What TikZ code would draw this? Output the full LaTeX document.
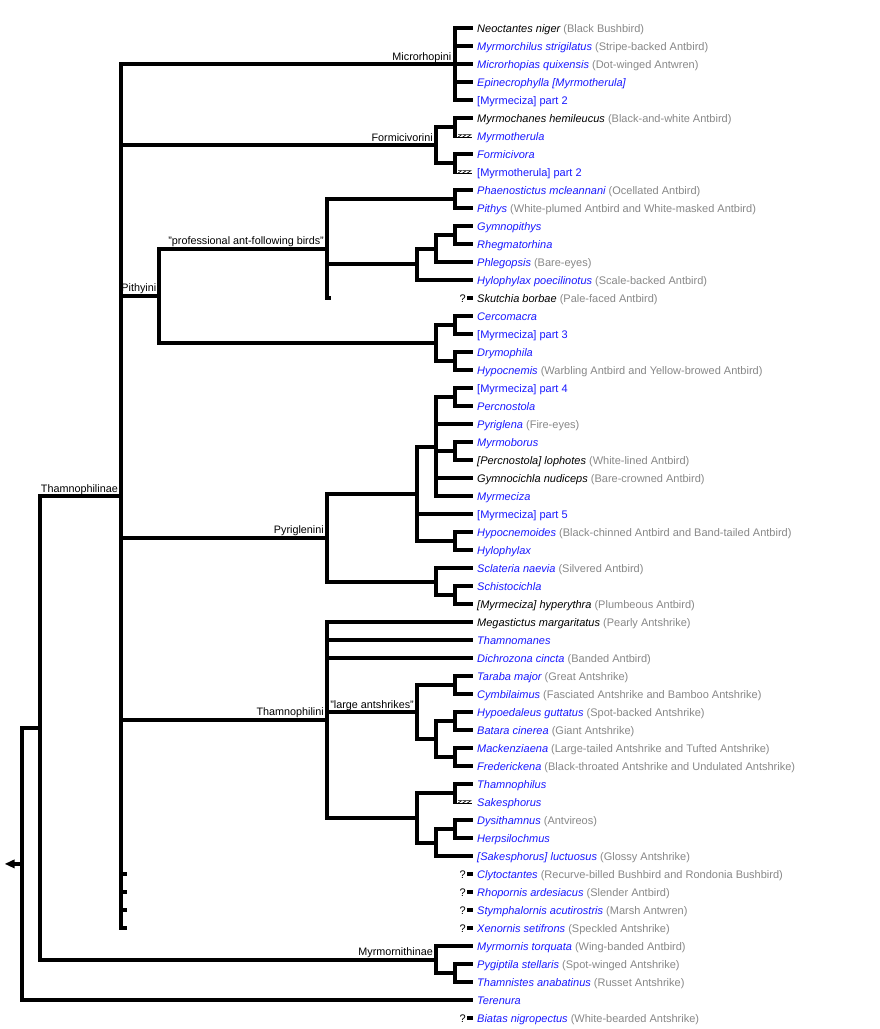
\documentclass[tikz,border=0pt]{standalone}
\usepackage{fontspec}
\setmainfont{Liberation Sans}
\usetikzlibrary{calc}
\definecolor{lkblue}{RGB}{25,25,255}
\definecolor{cmgray}{RGB}{136,136,136}
\newcommand\LkI[1]{\textcolor{lkblue}{\itshape #1}}
\newcommand\LkR[1]{\textcolor{lkblue}{#1}}
\newcommand\NmI[1]{{\itshape #1}}
\newcommand\CmN[1]{\textcolor{cmgray}{(#1)}}
\tikzset{
  branch/.style={line width=4pt, line join=miter, line cap=butt},
  leaf/.style={anchor=base west, inner sep=0pt, font=\fontsize{11}{13}\selectfont},
  clade/.style={anchor=base east, inner sep=0pt, font=\fontsize{10.8}{13}\selectfont},
  qmark/.style={anchor=base east, inner sep=0pt, font=\fontsize{11}{13}\selectfont},
}
\begin{document}
\begin{tikzpicture}[x=1pt,y=-1pt]
\useasboundingbox (0,0) rectangle (880,1029);
\fill[white] (0,0) rectangle (880,1029);

% leaf end points
\foreach \i in {1,...,56}{
  \pgfmathsetmacro{\yy}{28+18*(\i-1)}
  \coordinate (l\i) at (473,\yy);
}

% internal nodes
\coordinate (Mi) at (455,64);
\coordinate (F1) at (455,127);
\coordinate (F2) at (455,163);
\coordinate (F) at (436,145);
\coordinate (PA1) at (455,199);
\coordinate (PA4) at (455,235);
\coordinate (PA3) at (436,248.5);
\coordinate (PA2) at (417,264.25);
\coordinate (sPA) at (331,298);
\coordinate (PA) at (327,248.5);
\coordinate (PB1) at (455,325);
\coordinate (PB2) at (455,361);
\coordinate (PB) at (436,343);
\coordinate (P) at (159,295.75);
\coordinate (PyA1a) at (455,397);
\coordinate (PyA1b) at (455,451);
\coordinate (PyA1) at (436,446.5);
\coordinate (PyA2) at (455,541);
\coordinate (PyA) at (417,493.75);
\coordinate (PyB1) at (455,595);
\coordinate (PyB) at (436,581.5);
\coordinate (Py) at (327,537.6);
\coordinate (ThA1) at (455,685);
\coordinate (ThA2a) at (455,721);
\coordinate (ThA2b) at (455,757);
\coordinate (ThA2) at (436,739);
\coordinate (ThA) at (417,712);
\coordinate (ThB1) at (455,793);
\coordinate (ThB2a) at (455,829);
\coordinate (ThB2) at (436,842.5);
\coordinate (ThB) at (417,817.75);
\coordinate (Th) at (327,719.9);
\coordinate (T) at (121,496);
\foreach \i in {48,49,50,51}{
  \coordinate (s\i) at (126.5,{28+18*(\i-1)});
}
\coordinate (M1) at (455,973);
\coordinate (M) at (436,959.5);
\coordinate (A) at (40,727.75);
\coordinate (R) at (22,863.9);
\coordinate (rootend) at (14,863.9);

% branches
\foreach \p/\c in {
  R/A, R/l55, A/T, A/M,
  T/Mi, T/F, T/P, T/Py, T/Th, T/s48, T/s49, T/s50, T/s51,
  Mi/l1, Mi/l2, Mi/l3, Mi/l4, Mi/l5,
  F/F1, F/F2, F1/l6, F2/l8,
  P/PA, P/PB, PA/PA1, PA/PA2, PA/sPA, PA1/l10, PA1/l11,
  PA2/PA3, PA2/l15, PA3/PA4, PA3/l14, PA4/l12, PA4/l13,
  PB/PB1, PB/PB2, PB1/l17, PB1/l18, PB2/l19, PB2/l20,
  Py/PyA, Py/PyB, PyA/PyA1, PyA/l28, PyA/PyA2,
  PyA1/PyA1a, PyA1/l23, PyA1/PyA1b, PyA1/l26, PyA1/l27,
  PyA1a/l21, PyA1a/l22, PyA1b/l24, PyA1b/l25, PyA2/l29, PyA2/l30,
  PyB/l31, PyB/PyB1, PyB1/l32, PyB1/l33,
  Th/l34, Th/l35, Th/l36, Th/ThA, Th/ThB,
  ThA/ThA1, ThA/ThA2, ThA1/l37, ThA1/l38, ThA2/ThA2a, ThA2/ThA2b,
  ThA2a/l39, ThA2a/l40, ThA2b/l41, ThA2b/l42,
  ThB/ThB1, ThB/ThB2, ThB1/l43, ThB2/ThB2a, ThB2/l47, ThB2a/l45, ThB2a/l46,
  M/l52, M/M1, M1/l53, M1/l54}{
  \draw[branch] (\p) |- (\c);
}

% hatched branches
\foreach \p/\c in {F1/l7, F2/l9, ThB1/l44}{
  \draw[branch] (\p) -- ($(\p |- \c)+(0,2)$);
  \draw[line width=1.3pt] ($(\p |- \c)+(0,1.4)$) -- ($(\c)+(-1,1.4)$);
  \foreach \k in {0,1,2}{
    \draw[line width=0.7pt] ($(\p |- \c)+(3+4.6*\k,-1.4)$) -- ++(3.6,0) -- ++(-3.6,2.6);
  }
}

% root arrow
\draw[branch] (R) -- (rootend);
\fill (rootend) ++(0.5,-4.5) -- ++(-9.5,4.5) -- ++(9.5,4.5) -- cycle;

% uncertain-placement markers
\foreach \i in {16,48,49,50,51,56}{
  \node[qmark] (q\i) at ($(l\i)+(-7,4)$) {?};
  \fill ($(l\i)+(-6.5,-2)$) rectangle ($(l\i)+(0,2)$);
}

% clade labels
\node[clade] (cT)  at ($(T)+(-3,-4)$) {Thamnophilinae};
\node[clade] (cMi) at ($(Mi)+(-3.5,-4)$) {Microrhopini};
\node[clade] (cF)  at ($(F)+(-3,-4)$) {Formicivorini};
\node[clade] (cP)  at ($(P)+(-2.5,-4)$) {Pithyini};
\node[clade] (cPA) at ($(PA)+(-3,-4)$) {"professional ant-following birds"};
\node[clade] (cPy) at ($(Py)+(-3,-4)$) {Pyriglenini};
\node[clade] (cTh) at ($(Th)+(-3,-4)$) {Thamnophilini};
\node[clade] (cThA) at ($(ThA)+(-3,-4)$) {"large antshrikes"};
\node[clade] (cM)  at ($(M)+(-3,-4)$) {Myrmornithinae};

% leaf labels
\node[leaf] (t1) at ($(l1)+(4,4)$) {\NmI{Neoctantes niger} \CmN{Black Bushbird}};
\node[leaf] (t2) at ($(l2)+(4,4)$) {\LkI{Myrmorchilus strigilatus} \CmN{Stripe-backed Antbird}};
\node[leaf] (t3) at ($(l3)+(4,4)$) {\LkI{Microrhopias quixensis} \CmN{Dot-winged Antwren}};
\node[leaf] (t4) at ($(l4)+(4,4)$) {\LkI{Epinecrophylla [Myrmotherula]}};
\node[leaf] (t5) at ($(l5)+(4,4)$) {\LkR{[Myrmeciza] part 2}};
\node[leaf] (t6) at ($(l6)+(4,4)$) {\NmI{Myrmochanes hemileucus} \CmN{Black-and-white Antbird}};
\node[leaf] (t7) at ($(l7)+(4,4)$) {\LkI{Myrmotherula}};
\node[leaf] (t8) at ($(l8)+(4,4)$) {\LkI{Formicivora}};
\node[leaf] (t9) at ($(l9)+(4,4)$) {\LkR{[Myrmotherula] part 2}};
\node[leaf] (t10) at ($(l10)+(4,4)$) {\LkI{Phaenostictus mcleannani} \CmN{Ocellated Antbird}};
\node[leaf] (t11) at ($(l11)+(4,4)$) {\LkI{Pithys} \CmN{White-plumed Antbird and White-masked Antbird}};
\node[leaf] (t12) at ($(l12)+(4,4)$) {\LkI{Gymnopithys}};
\node[leaf] (t13) at ($(l13)+(4,4)$) {\LkI{Rhegmatorhina}};
\node[leaf] (t14) at ($(l14)+(4,4)$) {\LkI{Phlegopsis} \CmN{Bare-eyes}};
\node[leaf] (t15) at ($(l15)+(4,4)$) {\LkI{Hylophylax poecilinotus} \CmN{Scale-backed Antbird}};
\node[leaf] (t16) at ($(l16)+(4,4)$) {\NmI{Skutchia borbae} \CmN{Pale-faced Antbird}};
\node[leaf] (t17) at ($(l17)+(4,4)$) {\LkI{Cercomacra}};
\node[leaf] (t18) at ($(l18)+(4,4)$) {\LkR{[Myrmeciza] part 3}};
\node[leaf] (t19) at ($(l19)+(4,4)$) {\LkI{Drymophila}};
\node[leaf] (t20) at ($(l20)+(4,4)$) {\LkI{Hypocnemis} \CmN{Warbling Antbird and Yellow-browed Antbird}};
\node[leaf] (t21) at ($(l21)+(4,4)$) {\LkR{[Myrmeciza] part 4}};
\node[leaf] (t22) at ($(l22)+(4,4)$) {\LkI{Percnostola}};
\node[leaf] (t23) at ($(l23)+(4,4)$) {\LkI{Pyriglena} \CmN{Fire-eyes}};
\node[leaf] (t24) at ($(l24)+(4,4)$) {\LkI{Myrmoborus}};
\node[leaf] (t25) at ($(l25)+(4,4)$) {\NmI{[Percnostola] lophotes} \CmN{White-lined Antbird}};
\node[leaf] (t26) at ($(l26)+(4,4)$) {\NmI{Gymnocichla nudiceps} \CmN{Bare-crowned Antbird}};
\node[leaf] (t27) at ($(l27)+(4,4)$) {\LkI{Myrmeciza}};
\node[leaf] (t28) at ($(l28)+(4,4)$) {\LkR{[Myrmeciza] part 5}};
\node[leaf] (t29) at ($(l29)+(4,4)$) {\LkI{Hypocnemoides} \CmN{Black-chinned Antbird and Band-tailed Antbird}};
\node[leaf] (t30) at ($(l30)+(4,4)$) {\LkI{Hylophylax}};
\node[leaf] (t31) at ($(l31)+(4,4)$) {\LkI{Sclateria naevia} \CmN{Silvered Antbird}};
\node[leaf] (t32) at ($(l32)+(4,4)$) {\LkI{Schistocichla}};
\node[leaf] (t33) at ($(l33)+(4,4)$) {\NmI{[Myrmeciza] hyperythra} \CmN{Plumbeous Antbird}};
\node[leaf] (t34) at ($(l34)+(4,4)$) {\NmI{Megastictus margaritatus} \CmN{Pearly Antshrike}};
\node[leaf] (t35) at ($(l35)+(4,4)$) {\LkI{Thamnomanes}};
\node[leaf] (t36) at ($(l36)+(4,4)$) {\LkI{Dichrozona cincta} \CmN{Banded Antbird}};
\node[leaf] (t37) at ($(l37)+(4,4)$) {\LkI{Taraba major} \CmN{Great Antshrike}};
\node[leaf] (t38) at ($(l38)+(4,4)$) {\LkI{Cymbilaimus} \CmN{Fasciated Antshrike and Bamboo Antshrike}};
\node[leaf] (t39) at ($(l39)+(4,4)$) {\LkI{Hypoedaleus guttatus} \CmN{Spot-backed Antshrike}};
\node[leaf] (t40) at ($(l40)+(4,4)$) {\LkI{Batara cinerea} \CmN{Giant Antshrike}};
\node[leaf] (t41) at ($(l41)+(4,4)$) {\LkI{Mackenziaena} \CmN{Large-tailed Antshrike and Tufted Antshrike}};
\node[leaf] (t42) at ($(l42)+(4,4)$) {\LkI{Frederickena} \CmN{Black-throated Antshrike and Undulated Antshrike}};
\node[leaf] (t43) at ($(l43)+(4,4)$) {\LkI{Thamnophilus}};
\node[leaf] (t44) at ($(l44)+(4,4)$) {\LkI{Sakesphorus}};
\node[leaf] (t45) at ($(l45)+(4,4)$) {\LkI{Dysithamnus} \CmN{Antvireos}};
\node[leaf] (t46) at ($(l46)+(4,4)$) {\LkI{Herpsilochmus}};
\node[leaf] (t47) at ($(l47)+(4,4)$) {\LkI{[Sakesphorus] luctuosus} \CmN{Glossy Antshrike}};
\node[leaf] (t48) at ($(l48)+(4,4)$) {\LkI{Clytoctantes} \CmN{Recurve-billed Bushbird and Rondonia Bushbird}};
\node[leaf] (t49) at ($(l49)+(4,4)$) {\LkI{Rhopornis ardesiacus} \CmN{Slender Antbird}};
\node[leaf] (t50) at ($(l50)+(4,4)$) {\LkI{Stymphalornis acutirostris} \CmN{Marsh Antwren}};
\node[leaf] (t51) at ($(l51)+(4,4)$) {\LkI{Xenornis setifrons} \CmN{Speckled Antshrike}};
\node[leaf] (t52) at ($(l52)+(4,4)$) {\LkI{Myrmornis torquata} \CmN{Wing-banded Antbird}};
\node[leaf] (t53) at ($(l53)+(4,4)$) {\LkI{Pygiptila stellaris} \CmN{Spot-winged Antshrike}};
\node[leaf] (t54) at ($(l54)+(4,4)$) {\LkI{Thamnistes anabatinus} \CmN{Russet Antshrike}};
\node[leaf] (t55) at ($(l55)+(4,4)$) {\LkI{Terenura}};
\node[leaf] (t56) at ($(l56)+(4,4)$) {\LkI{Biatas nigropectus} \CmN{White-bearded Antshrike}};
\end{tikzpicture}
\end{document}
